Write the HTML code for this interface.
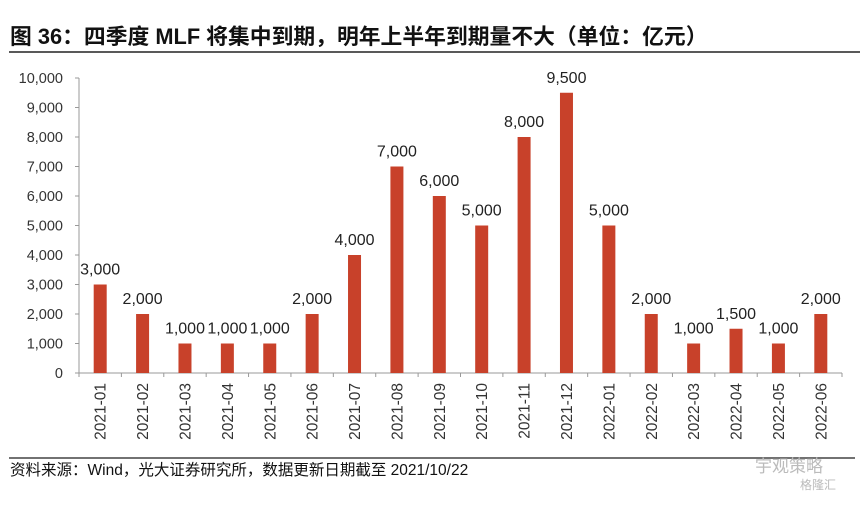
<!DOCTYPE html>
<html><head><meta charset="utf-8"><style>
body{margin:0;background:#fff;width:867px;height:505px;overflow:hidden;font-family:"Liberation Sans","Noto Sans CJK SC",sans-serif;}
</style></head><body>
<svg id="c" width="867" height="505" xmlns="http://www.w3.org/2000/svg">
<text x="10" y="44" font-size="21.8" font-weight="bold" fill="#111" font-family="Liberation Sans, Noto Sans CJK SC, sans-serif">图 36：四季度 MLF 将集中到期，明年上半年到期量不大（单位：亿元）</text>
<line x1="9" y1="52" x2="860" y2="52" stroke="#222" stroke-width="1.5"/>
<line x1="9" y1="458" x2="855" y2="458" stroke="#444" stroke-width="1.5"/>
<text x="10" y="475" font-size="15.5" fill="#111" font-family="Liberation Sans, Noto Sans CJK SC, sans-serif">资料来源：Wind，光大证券研究所，数据更新日期截至 2021/10/22</text>
<text x="755" y="472" font-size="17" fill="#bbb" font-family="Noto Sans CJK SC, sans-serif">宇观策略</text>
<text x="800" y="489" font-size="12" fill="#bbb" font-family="Noto Sans CJK SC, sans-serif">格隆汇</text>
<g id="plot"></g>
</svg>
<script>
const categories=["2021-01","2021-02","2021-03","2021-04","2021-05","2021-06","2021-07","2021-08","2021-09","2021-10","2021-11","2021-12","2022-01","2022-02","2022-03","2022-04","2022-05","2022-06"];
const values=[3000,2000,1000,1000,1000,2000,4000,7000,6000,5000,8000,9500,5000,2000,1000,1500,1000,2000];
const yTicks=[0,1000,2000,3000,4000,5000,6000,7000,8000,9000,10000];
const yTickLabels=["0","1,000","2,000","3,000","4,000","5,000","6,000","7,000","8,000","9,000","10,000"];
const NS="http://www.w3.org/2000/svg";
const g=document.getElementById('plot');
const x0=79,x1=842,yZero=373,yTop=78,yMax=10000;
const step=(x1-x0)/categories.length;
function y(v){return yZero-(v/yMax)*(yZero-yTop);}
function xc(i){return x0+step*(i+0.5);}
function mk(tag,attrs){const e=document.createElementNS(NS,tag);for(const k in attrs)e.setAttribute(k,attrs[k]);g.appendChild(e);return e;}
let ax=mk('line',{x1:x0,y1:yTop,x2:x0,y2:yZero,stroke:'#999'});


let bx=mk('line',{x1:x0,y1:yZero,x2:x1,y2:yZero,stroke:'#999'});


yTicks.forEach((t,i)=>{
  mk('line',{x1:x0-4,y1:y(t),x2:x0,y2:y(t),stroke:'#999'});
  const tx=mk('text',{x:x0-16,y:y(t)+5,'font-size':14.5,'text-anchor':'end',fill:'#333'});
  tx.textContent=yTickLabels[i];
  
  
});
for(let i=0;i<=categories.length;i++){mk('line',{x1:x0+step*i,y1:yZero,x2:x0+step*i,y2:yZero+4,stroke:'#999'});}
const bw=13;
categories.forEach((c,i)=>{
  const v=values[i];
  const r=mk('rect',{x:xc(i)-bw/2,y:y(v),width:bw,height:yZero-y(v),fill:'#C8412A'});
  
  
  const l=mk('text',{x:xc(i),y:y(v)-10,'font-size':16,'text-anchor':'middle',fill:'#222'});
  l.textContent=v.toLocaleString('en-US');
  
  
  const cx=xc(i)+5.5,cy=383;
  const xl=mk('text',{x:cx,y:cy,'font-size':15.5,'text-anchor':'end',fill:'#333',transform:`rotate(-90 ${cx} ${cy})`});
  xl.textContent=c;
  
  
});
</script>
</body></html>
